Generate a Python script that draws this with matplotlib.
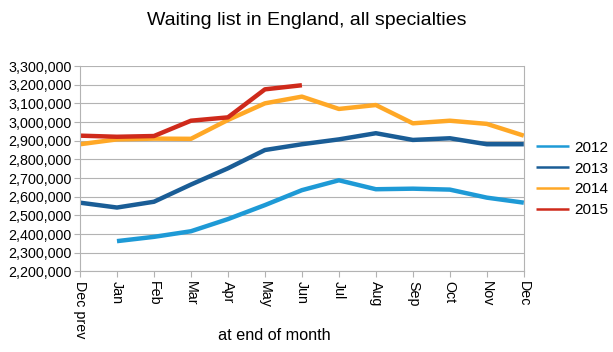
import matplotlib.pyplot as plt
from matplotlib.ticker import FuncFormatter

plt.rcParams['font.family'] = ['Liberation Sans', 'DejaVu Sans']

months = ["Dec prev", "Jan", "Feb", "Mar", "Apr", "May", "Jun",
          "Jul", "Aug", "Sep", "Oct", "Nov", "Dec"]

# 2012 starts at Jan (no Dec prev value)
y2012 = [None, 2362000, 2385000, 2415000, 2480000, 2555000, 2635000,
         2688000, 2640000, 2643000, 2638000, 2595000, 2568000]
y2013 = [2568000, 2542000, 2573000, 2665000, 2752000, 2850000, 2881000,
         2907000, 2940000, 2904000, 2913000, 2881000, 2881000]
y2014 = [2881000, 2907000, 2911000, 2910000, 3011000, 3100000, 3136000,
         3070000, 3091000, 2993000, 3007000, 2990000, 2927000]
y2015 = [2927000, 2921000, 2925000, 3007000, 3025000, 3175000, 3197000]

series = [
    ("2012", y2012, "#1e9ad6"),
    ("2013", y2013, "#1a5d96"),
    ("2014", y2014, "#ffa826"),
    ("2015", y2015, "#cf2a1b"),
]

fig = plt.figure(figsize=(6.13, 3.52), dpi=100)
ax = fig.add_axes([0.1305, 0.229, 0.724, 0.5835])

x = list(range(len(months)))
for name, vals, col in series:
    xs = [i for i, v in zip(x, vals) if v is not None]
    vs = [v for v in vals if v is not None]
    ax.plot(xs, vs, color=col, lw=3.2, label=name, solid_capstyle="butt")

ax.set_xlim(0, 12)
ax.set_ylim(2200000, 3300000)
ax.set_yticks(range(2200000, 3300001, 100000))
ax.yaxis.set_major_formatter(FuncFormatter(lambda v, p: f"{int(v):,}"))
ax.set_xticks(x)
ax.set_xticklabels(months, rotation=270, fontsize=10.3)
ax.tick_params(axis="y", labelsize=10.3, length=4, color="#b3b3b3", pad=2)
ax.tick_params(axis="x", length=4, color="#b3b3b3", pad=3)
ax.grid(axis="y", color="#b3b3b3", lw=0.8)
ax.set_axisbelow(True)
for s in ["left", "right", "bottom"]:
    ax.spines[s].set_color("#b3b3b3")
ax.spines["top"].set_visible(False)

fig.text(0.501, 0.943, "Waiting list in England, all specialties",
         fontsize=14, ha="center", va="center")
fig.text(0.448, 0.048, "at end of month", fontsize=11.7, ha="center", va="center")

leg = ax.legend(loc="center left", bbox_to_anchor=(0.996, 0.45), frameon=False,
                fontsize=11, handlelength=2.15, labelspacing=0.45, handletextpad=0.35)
for h in leg.get_lines():
    h.set_linewidth(1.8)

fig.savefig("out.png", dpi=100)
